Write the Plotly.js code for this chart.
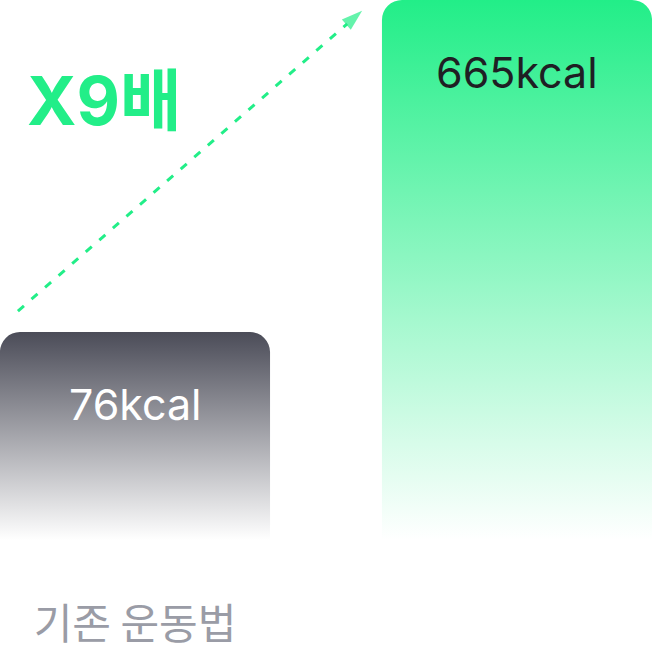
<!DOCTYPE html>
<html>
<head>
<meta charset="utf-8">
<script src="https://cdn.plot.ly/plotly-3.0.1.min.js"></script>
<style>
  html, body { margin: 0; padding: 0; background: #fff; }
  #graph { width: 652px; height: 662px; }
</style>
</head>
<body>
<div id="graph"></div>
<script>
// chart data
const categories = ["기존 운동법", ""];
const kcalValues = [76, 665];
// drawn bar heights (% of the tallest bar)
const barLevels = [38.5, 100];
const ratioLabel = "X9배";

const xPos = [0, 1];
const barWidth = 0.707;
const topColors = ["#4b4c58", "#22ee88"];
const textColors = ["#ffffff", "#1f1f24"];

function addGradients(gd) {
    const svg = gd.querySelector("svg.main-svg");
    let defs = svg.querySelector("defs");
    const ns = "http://www.w3.org/2000/svg";
    topColors.forEach(function (c, i) {
        const g = document.createElementNS(ns, "linearGradient");
        g.setAttribute("id", "barGrad" + i);
        g.setAttribute("x1", "0"); g.setAttribute("y1", "0");
        g.setAttribute("x2", "0"); g.setAttribute("y2", "1");
        const s1 = document.createElementNS(ns, "stop");
        s1.setAttribute("offset", "0");
        s1.setAttribute("stop-color", c);
        const s2 = document.createElementNS(ns, "stop");
        s2.setAttribute("offset", "1");
        s2.setAttribute("stop-color", c);
        s2.setAttribute("stop-opacity", "0");
        g.appendChild(s1);
        g.appendChild(s2);
        defs.appendChild(g);
    });
    const paths = gd.querySelectorAll(".barlayer .point path");
    paths.forEach(function (p, i) {
        p.style.fill = "url(#barGrad" + i + ")";
        p.style.fillOpacity = 1;
    });
}

function initPlot() {
    // dashed arrow from the small bar towards the big one
    const arrowX = [xPos[0] - barWidth / 2 + 0.047, xPos[1] - barWidth / 2 - 0.052];
    const arrowY = [barLevels[0] + 3.9, barLevels[1] - 2.0];

    const bars = {
        type: "bar",
        x: xPos,
        y: barLevels,
        width: [barWidth, barWidth],
        marker: { color: topColors, cornerradius: 20, line: { width: 0 } },
        hoverinfo: "skip",
        cliponaxis: false,
    };

    const arrow = {
        type: "scatter",
        mode: "lines+markers",
        x: arrowX,
        y: arrowY,
        line: { color: "#22ee88", width: 3, dash: "8px,10px" },
        marker: {
            symbol: "arrow",
            angleref: "previous",
            size: [0, 22],
            color: "#22ee88",
            line: { width: 0 },
        },
        hoverinfo: "skip",
        cliponaxis: false,
    };

    const annotations = kcalValues.map(function (v, i) {
        return {
            x: xPos[i],
            y: barLevels[i],
            xref: "x",
            yref: "y",
            text: v + "kcal",
            showarrow: false,
            yanchor: "top",
            yshift: -44,
            font: { family: "Inter, 'Noto Sans CJK KR', sans-serif", size: 43, color: textColors[i] },
        };
    });
    annotations.push({
        x: 0.038,
        y: 0.813,
        xref: "paper",
        yref: "paper",
        xanchor: "left",
        yanchor: "middle",
        text: "<b>" + ratioLabel + "</b>",
        showarrow: false,
        font: { family: "Inter, 'Noto Sans CJK KR', sans-serif", size: 67, color: "#22ee88" },
    });

    const layout = {
        width: 652,
        height: 662,
        margin: { l: 0, r: 0, t: 0, b: 122 },
        paper_bgcolor: "#ffffff",
        plot_bgcolor: "#ffffff",
        showlegend: false,
        xaxis: {
            range: [-0.3534, 1.3534],
            tickvals: xPos,
            ticktext: categories,
            ticks: "",
            showgrid: false,
            zeroline: false,
            showline: false,
            ticklabelstandoff: 56,
            tickfont: { family: "'Noto Sans CJK KR', sans-serif", size: 42, color: "#9a9ca6" },
            fixedrange: true,
        },
        yaxis: {
            range: [0, 100],
            visible: false,
            showgrid: false,
            zeroline: false,
            fixedrange: true,
        },
        annotations: annotations,
    };

    const config = { displayModeBar: false, staticPlot: true };

    Plotly.newPlot("graph", [bars, arrow], layout, config).then(addGradients);
}

document.addEventListener("DOMContentLoaded", initPlot);
</script>
</body>
</html>
